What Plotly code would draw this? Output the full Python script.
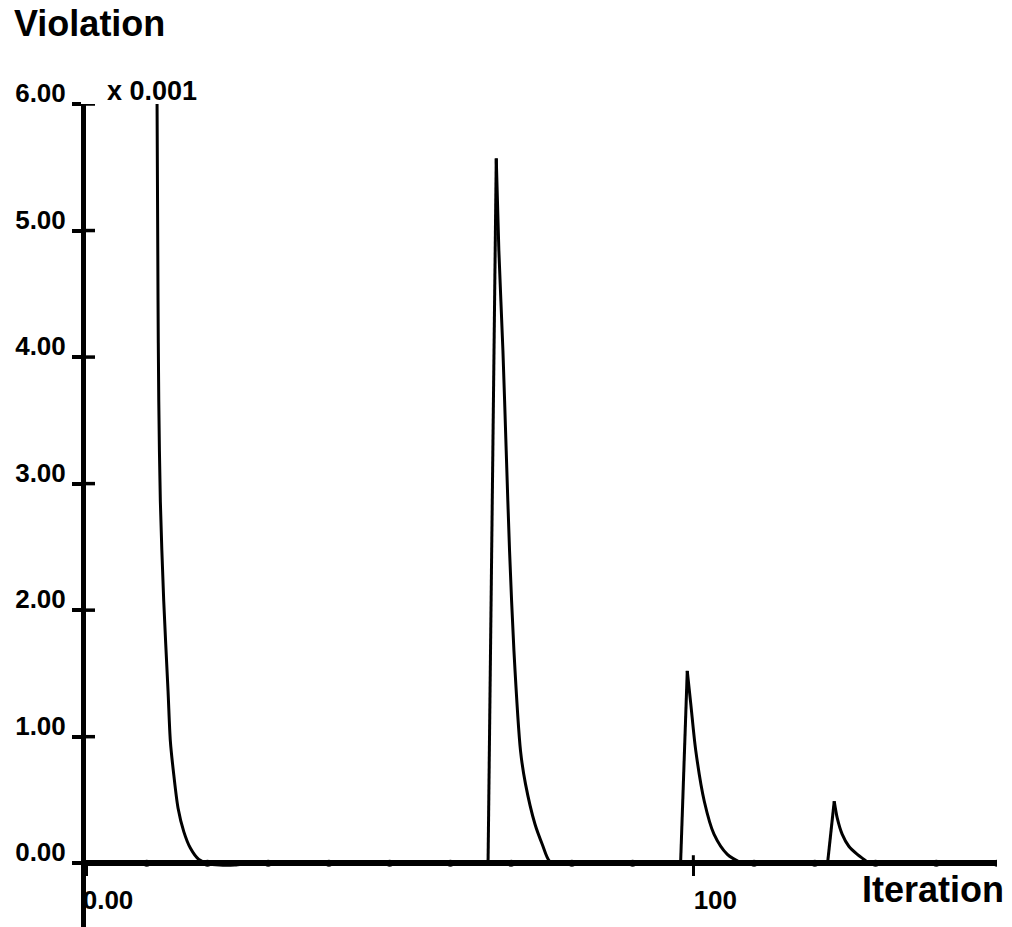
import plotly.graph_objects as go

# ---- data (violation in units of 0.001) ----
spike1_iter = [11.70, 11.86, 11.98, 12.24, 12.80, 13.51, 13.89, 14.45, 15.16, 16.10, 17.18, 18.57, 19.93, 22.0, 24.5, 26.5, 28.0]
spike1_viol = [6.0, 4.45, 3.66, 2.86, 2.07, 1.36, 0.965, 0.70, 0.435, 0.25, 0.12, 0.03, 0.0, -0.015, -0.015, -0.005, 0.0]

spike2_iter = [66.2, 67.55, 67.98, 68.65, 69.19, 69.74, 70.46, 71.55, 72.37, 73.92, 75.12, 76.33, 77.8]
spike2_viol = [0.0, 5.57, 4.84, 4.05, 3.26, 2.47, 1.68, 0.886, 0.625, 0.31, 0.15, 0.016, 0.0]

spike3_iter = [97.9, 99.0, 99.6, 100.4, 101.8, 103.4, 105.6, 108.0]
spike3_viol = [0.0, 1.52, 1.25, 0.89, 0.49, 0.23, 0.07, 0.0]

spike4_iter = [122.1, 123.2, 123.7, 124.5, 125.6, 127.0, 128.1, 128.9]
spike4_viol = [0.0, 0.49, 0.356, 0.23, 0.134, 0.07, 0.03, 0.0]

baseline_iter = [0.0, 150.0]
baseline_viol = [0.0, 0.0]

y_ticks = [0, 1, 2, 3, 4, 5, 6]
y_ticktext = ["0.00", "1.00", "2.00", "3.00", "4.00", "5.00", "6.00"]
x_ticks = [0, 100]
x_ticktext = ["0.00", "100"]
x_minor_ticks = [10, 20, 30, 40, 50, 60, 70, 80, 90, 110, 120, 130, 140, 150]

x_range = [0, 150]
y_range = [-0.504, 6.0]

FONT = "Liberation Sans"
W, H = 1012, 927
ML, MR, MT, MB = 86, 15, 104, 0
pw, ph = W - ML - MR, H - MT - MB

def px(xp):
    return (xp - ML) / pw

def py(yp):
    return (H - MB - yp) / ph

x_pos = (0 - y_range[0]) / (y_range[1] - y_range[0])

fig = go.Figure()
line = dict(color="black", width=3)

# baseline (hidden under axis line)
fig.add_trace(go.Scatter(x=baseline_iter, y=baseline_viol, mode="lines",
                         line=line, showlegend=False, hoverinfo="skip"))

# each spike: linear rise, smooth decay
for it, vi in [(spike1_iter, spike1_viol), (spike2_iter, spike2_viol),
               (spike3_iter, spike3_viol), (spike4_iter, spike4_viol)]:
    peak = vi.index(max(vi))
    if peak > 0:
        fig.add_trace(go.Scatter(x=it[:peak + 1], y=vi[:peak + 1], mode="lines",
                                 line=line, showlegend=False, hoverinfo="skip"))
    fig.add_trace(go.Scatter(x=it[peak:], y=vi[peak:], mode="lines",
                             line=dict(color="black", width=3, shape="spline",
                                       smoothing=0.8),
                             showlegend=False, hoverinfo="skip"))

tickfont = dict(family=FONT, size=26, color="black", weight="bold")

fig.update_layout(
    width=W, height=H,
    margin=dict(l=ML, r=MR, t=MT, b=MB, pad=0),
    paper_bgcolor="white", plot_bgcolor="white",
    xaxis=dict(range=x_range, showgrid=False, zeroline=False,
               showline=True, linecolor="black", linewidth=5.5,
               anchor="free", position=x_pos,
               tickvals=x_ticks, ticktext=x_ticktext,
               ticks="outside", ticklen=10, tickwidth=3, tickcolor="black",
               tickfont=tickfont, ticklabelshift=22, ticklabelstandoff=2),
    yaxis=dict(range=y_range, showgrid=False, zeroline=False,
               showline=True, linecolor="black", linewidth=5,
               tickvals=y_ticks, ticktext=y_ticktext,
               ticks="outside", ticklen=9, tickwidth=3.5, tickcolor="black",
               tickfont=tickfont, ticklabelshift=-11, ticklabelstandoff=1),
)

# inner halves of the crossing y ticks
for yv in y_ticks:
    fig.add_shape(type="line", xref="paper", yref="y",
                  x0=0, x1=9 / pw, y0=yv, y1=yv,
                  line=dict(color="black", width=3.5), layer="above")
# inner half of the crossing major x tick(s)
for xv in x_ticks[1:]:
    fig.add_shape(type="line", xref="x", yref="paper",
                  x0=xv, x1=xv, y0=x_pos, y1=x_pos + 8 / ph,
                  line=dict(color="black", width=3), layer="above")
# dot marks at minor x ticks
for xv in x_minor_ticks:
    fig.add_shape(type="circle", xref="x", yref="y",
                  xsizemode="pixel", ysizemode="pixel",
                  xanchor=xv, yanchor=0, x0=-3.5, x1=3.5, y0=-3.5, y1=3.5,
                  fillcolor="black", line=dict(color="black", width=0),
                  layer="above")

fig.add_annotation(text="Violation", xref="paper", yref="paper",
                   x=px(12), y=py(46), xanchor="left", yanchor="bottom",
                   showarrow=False,
                   font=dict(family=FONT, size=36, color="black", weight="bold"))
fig.add_annotation(text="x 0.001", xref="paper", yref="paper",
                   x=px(105), y=py(108), xanchor="left", yanchor="bottom",
                   showarrow=False,
                   font=dict(family=FONT, size=27, color="black", weight="bold"))
fig.add_annotation(text="Iteration", xref="paper", yref="paper",
                   x=px(1006), y=py(912), xanchor="right", yanchor="bottom",
                   showarrow=False,
                   font=dict(family=FONT, size=36, color="black", weight="bold"))

fig.write_html("out.html")
